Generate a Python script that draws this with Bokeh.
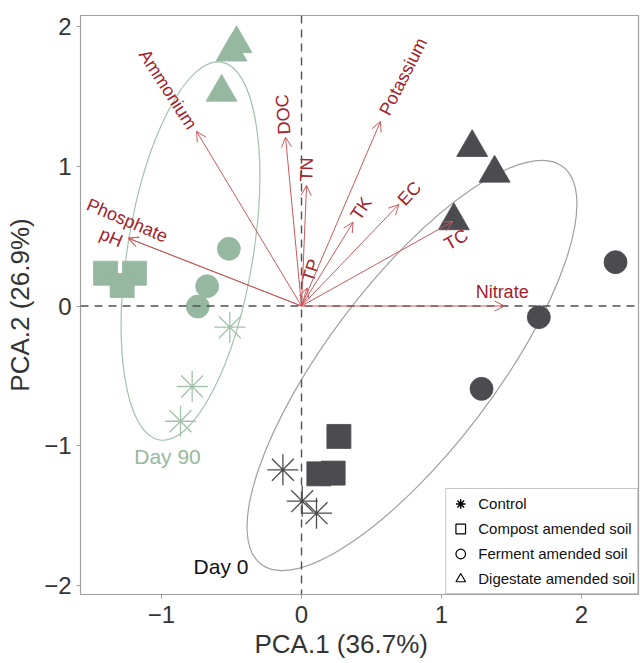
from bokeh.plotting import figure
from bokeh.models import (ColumnDataSource, Span, Arrow, OpenHead, Legend, LegendItem,
                          Range1d, FixedTicker, Title)
from bokeh.core.properties import value
from bokeh.embed import file_html
from bokeh.resources import INLINE

FONT = "Liberation Sans"
NAN = float("nan")

# ---- sample scores (PCA.1, PCA.2) ----
d0_control_x = [-0.133, 0.005, 0.107]
d0_control_y = [-1.174, -1.399, -1.485]
d0_compost_x = [0.267, 0.124, 0.226]
d0_compost_y = [-0.935, -1.203, -1.198]
d0_ferment_x = [2.243, 1.695, 1.286]
d0_ferment_y = [0.314, -0.080, -0.594]
d0_digest_x = [1.219, 1.379, 1.088]
d0_digest_y = [1.136, 0.952, 0.611]

d90_control_x = [-0.512, -0.781, -0.864]
d90_control_y = [-0.152, -0.577, -0.826]
d90_compost_x = [-1.400, -1.193, -1.281]
d90_compost_y = [0.235, 0.235, 0.147]
d90_ferment_x = [-0.519, -0.674, -0.741]
d90_ferment_y = [0.410, 0.142, -0.004]
d90_digest_x = [-0.464, -0.500, -0.571]
d90_digest_y = [1.880, 1.820, 1.532]

# ---- loadings (arrows) ----
var_names = ["Ammonium", "DOC", "TN", "TP", "Phosphate", "pH", "Potassium", "TK", "EC", "TC", "Nitrate"]
var_x = [-0.750, -0.114, 0.036, 0.040, -1.238, -1.238, 0.564, 0.369, 0.695, 1.081, 1.450]
var_y = [1.253, 1.210, 0.864, 0.130, 0.486, 0.486, 1.323, 0.601, 0.728, 0.606, 0.000]
lab_x = [-0.954, -0.131, 0.036, 0.069, -1.245, -1.359, 0.726, 0.426, 0.771, 1.105, 1.433]
lab_y = [1.552, 1.373, 0.978, 0.254, 0.613, 0.491, 1.645, 0.699, 0.806, 0.477, 0.099]
lab_angle = [-57, 94, 88, 72, -23, -23, 63, 56, 47, 30, 0]

# ---- group ellipses ----
ell_day = ["Day 0", "Day 90"]
ell_cx = [0.789, -0.793]
ell_cy = [-0.4265, 0.394]
ell_w = [3.565, 2.735]
ell_h = [1.200, 0.900]
ell_angle = [52.8, 80.7]

day_labels = ["Day 90", "Day 0"]
day_lab_x = [-0.957, -0.575]
day_lab_y = [-1.079, -1.867]

legend_labels = ["Control", "Compost amended soil", "Ferment amended soil", "Digestate amended soil"]
legend_markers = ["asterisk", "square", "circle", "triangle"]

x_ticks = [-1, 0, 1, 2]
y_ticks = [-2, -1, 0, 1, 2]

DARK = "#4b4b50"
GREEN = "#96b8a0"
GREEN_LINE = "#a3c2ab"
RED_TXT = "#a3222a"
RED_LINE = "#c85a5e"

p = figure(width=640, height=663, output_backend="svg", toolbar_location=None,
           x_range=Range1d(-1.5786, 2.407), y_range=Range1d(-2.068, 2.0824),
           min_border_left=80, min_border_right=2, min_border_top=15, min_border_bottom=69)
p.xgrid.visible = False
p.ygrid.visible = False
p.outline_line_color = "#a0a0a0"
p.outline_line_width = 1.2
p.background_fill_color = "white"
p.border_fill_color = "white"

for ax in (p.xaxis[0], p.yaxis[0]):
    ax.axis_line_color = "#a0a0a0"
    ax.major_tick_line_color = "#a0a0a0"
    ax.major_tick_out = 4
    ax.major_tick_in = 0
    ax.minor_tick_line_color = None
    ax.major_label_text_font = FONT
    ax.major_label_text_font_size = "24px"
    ax.major_label_text_color = "#333333"
    ax.axis_label_text_font = FONT
    ax.axis_label_text_font_size = "26px"
    ax.axis_label_text_color = "#333333"
    ax.axis_label_text_font_style = "normal"

p.xaxis.ticker = FixedTicker(ticks=x_ticks)
p.yaxis.ticker = FixedTicker(ticks=y_ticks)
p.xaxis.major_label_overrides = {t: str(t).replace("-", "\u2212") for t in x_ticks}
p.yaxis.major_label_overrides = {t: str(t).replace("-", "\u2212") for t in y_ticks}
p.yaxis.axis_label = "PCA.2 (26.9%)"
p.xaxis.major_label_standoff = 7
p.yaxis.major_label_standoff = 5
p.yaxis.axis_label_standoff = 6

p.add_layout(Title(text="PCA.1 (36.7%)", align="left", offset=174, standoff=3,
                   text_font=FONT, text_font_size="26px", text_font_style="normal",
                   text_color="#333333"), "below")

# ellipses
ell_src = ColumnDataSource(dict(x=ell_cx, y=ell_cy, w=ell_w, h=ell_h, a=ell_angle,
                                c=["#a0a0a0", GREEN_LINE]))
p.ellipse(x="x", y="y", width="w", height="h", angle="a", angle_units="deg",
          fill_color=None, line_color="c", line_width=1.2, source=ell_src)

# points
def pts(xs, ys, marker, color, size):
    if marker == "asterisk":
        p.scatter(xs, ys, marker="asterisk", size=size, line_color=color, line_width=1.3)
    else:
        p.scatter(xs, ys, marker=marker, size=size, fill_color=color, line_color=color,
                  line_width=0.8)

pts(d90_control_x, d90_control_y, "asterisk", GREEN_LINE, 31)
pts(d90_compost_x, d90_compost_y, "square", GREEN, 24)
pts(d90_ferment_x, d90_ferment_y, "circle", GREEN, 23)
pts(d90_digest_x, d90_digest_y, "triangle", GREEN, 31)
pts(d0_control_x, d0_control_y, "asterisk", DARK, 31)
pts(d0_compost_x, d0_compost_y, "square", DARK, 24)
pts(d0_ferment_x, d0_ferment_y, "circle", DARK, 23)
pts(d0_digest_x, d0_digest_y, "triangle", DARK, 31)

# reference lines
p.add_layout(Span(location=0, dimension="height", line_color="#505050", line_dash="8 6", line_width=1.4))
p.add_layout(Span(location=0, dimension="width", line_color="#505050", line_dash="8 6", line_width=1.4))

# loading arrows
arr_src = ColumnDataSource(dict(x0=[0] * len(var_x), y0=[0] * len(var_y), x1=var_x, y1=var_y))
p.add_layout(Arrow(end=OpenHead(size=10, line_color=RED_LINE, line_width=1),
                   x_start="x0", y_start="y0", x_end="x1", y_end="y1",
                   line_color=RED_LINE, line_width=1, source=arr_src))

lab_src = ColumnDataSource(dict(x=lab_x, y=lab_y, t=var_names, a=lab_angle))
p.text(x="x", y="y", text="t", angle="a", angle_units="deg", source=lab_src,
       text_font=value(FONT), text_font_size="18px", text_color=RED_TXT,
       text_align="center", text_baseline="middle")

# day labels
day_src = ColumnDataSource(dict(x=day_lab_x, y=day_lab_y, t=day_labels, c=[GREEN, "#111111"]))
p.text(x="x", y="y", text="t", source=day_src, text_font=value(FONT), text_font_size="21px",
       text_color="c", text_align="center", text_baseline="middle")

# legend (key glyphs are open black symbols, not tied to plotted data)
items = []
for lab, mk in zip(legend_labels, legend_markers):
    if mk == "asterisk":
        r = p.scatter([NAN], [NAN], marker=mk, line_color="black", line_width=1.4)
    else:
        r = p.scatter([NAN], [NAN], marker=mk, fill_color=None, line_color="black", line_width=1.2)
    items.append(LegendItem(label=lab, renderers=[r]))
legend = Legend(items=items, location="bottom_right", margin=0, padding=2, spacing=0,
                glyph_height=25, glyph_width=24, label_height=25, label_standoff=6,
                label_text_font=FONT, label_text_font_size="15px", label_text_color="#111111",
                border_line_color="#909090", border_line_width=1, background_fill_alpha=1)
p.add_layout(legend)

open("out.html", "w").write(file_html(p, INLINE))
